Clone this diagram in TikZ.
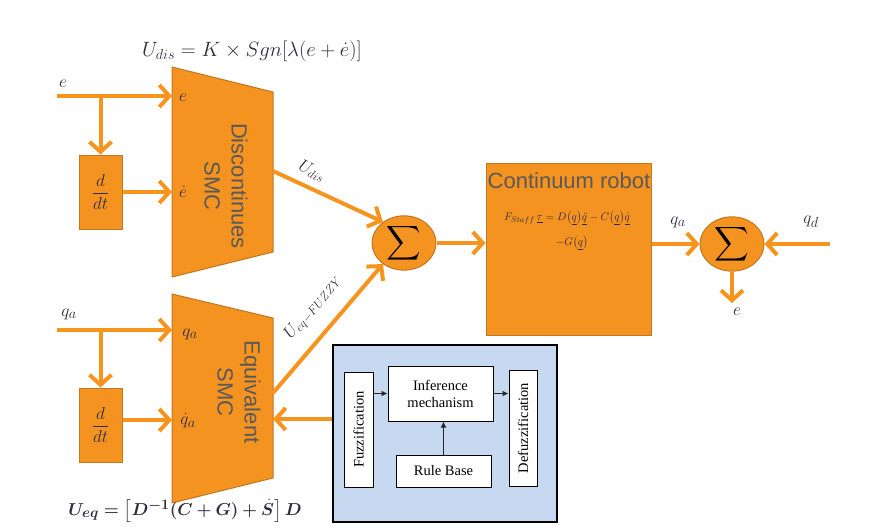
\documentclass[tikz,border=0pt]{standalone}
\usepackage{amsmath, amssymb}
\usepackage{bm}
\usepackage{fontspec}
\setmainfont{Liberation Serif}
\setsansfont{Liberation Sans}
\usepackage{tikz}
\usetikzlibrary{arrows.meta, positioning, shapes.geometric, calc}

\definecolor{sigorange}{RGB}{247,148,30}
\definecolor{bodyorange}{RGB}{245,147,33}
\definecolor{bodyedge}{RGB}{196,118,32}
\definecolor{fuzzyblue}{RGB}{198,217,241}
\definecolor{labelgray}{RGB}{89,89,89}
\definecolor{mathink}{RGB}{45,45,60}

\begin{document}
\begin{tikzpicture}[x=1pt, y=-1pt,
    sig/.style={draw=sigorange, line width=4pt, -{Straight Barb[length=10pt,width=22pt]}},
    body/.style={fill=bodyorange, draw=bodyedge, line width=1pt},
    ddt/.style={body, minimum width=43pt, minimum height=74pt, inner sep=0pt, text=mathink, font=\fontsize{17}{20}\selectfont},
    sumnode/.style={ellipse, body, minimum width=64pt, minimum height=54pt, inner sep=0pt, font=\fontsize{24}{26}\selectfont},
    smctext/.style={rotate=-90, align=center, text=labelgray, font=\sffamily\fontsize{22}{27}\selectfont},
    lbl/.style={text=mathink, font=\fontsize{19}{22}\selectfont, inner sep=1pt},
    fzbox/.style={draw=black, line width=1pt, fill=white, inner sep=0pt, align=center, font=\fontsize{14.5}{17}\selectfont},
    fz/.style={draw=black!85, line width=1.2pt, -{Latex[length=6pt,width=6pt]}}]
    \useasboundingbox (0,0) rectangle (873,530);

    % Discontinuous SMC block
    \draw[body] (172,67) -- (273,92) -- (273,252) -- (172,277) -- cycle;
    \node[smctext] (distext) at (226,186) {Discontinues\\SMC};
    \coordinate (dis-e) at (172,96);
    \coordinate (dis-de) at (172,192);
    \coordinate (dis-out) at (273,171);
    \node[lbl, font=\fontsize{20}{24}\selectfont] (dislaw) at (252,51) {$U_{dis} = K \times Sgn[\lambda(e + \dot{e})]$};

    % Equivalent SMC block
    \draw[body] (172,294) -- (273,318) -- (273,478) -- (172,503) -- cycle;
    \node[smctext] (eqtext) at (239,392) {Equivalent\\SMC};
    \coordinate (eq-q) at (172,330);
    \coordinate (eq-dq) at (172,420);
    \coordinate (eq-out) at (273,393);
    \coordinate (eq-fb) at (273,419);
    \node[lbl] (eqlaw) at (185,511) {$\bm{U_{eq} = \left[D^{-1}(C + G) + \dot{S}\right]D}$};

    % Inputs e and q_a with derivative blocks
    \coordinate (ein) at (57,96);
    \coordinate (ebr) at (100.5,96);
    \node[lbl] (elbl) at (63,84) {$e$};
    \node[ddt] (dt1) at (100.5,192) {$\dfrac{d}{dt}$};
    \node[lbl] (e1) at (183,98) {$e$};
    \node[lbl] (e2) at (183,192) {$\dot{e}$};
    \draw[sig] (ein) -- (dis-e);
    \draw[sig] (ebr) -- (dt1.north);
    \draw[sig] (dt1.east) -- (dis-de);

    \coordinate (qin) at (57,330);
    \coordinate (qbr) at (100.5,330);
    \node[lbl] (qlbl) at (69,314) {$q_a$};
    \node[ddt] (dt2) at (100.5,425) {$\dfrac{d}{dt}$};
    \node[lbl] (q1) at (190,334) {$q_a$};
    \node[lbl] (q2) at (188,421) {$\dot{q}_a$};
    \draw[sig] (qin) -- (eq-q);
    \draw[sig] (qbr) -- (dt2.north);
    \draw[sig] (dt2.east |- eq-dq) -- (eq-dq);

    % Summing junction
    \node[sumnode] (sum1) at (404,243) {$\displaystyle\sum$};
    \draw[sig] (dis-out) -- (sum1.135);
    \draw[sig] (eq-out) -- (sum1.225);
    \node[lbl, font=\fontsize{17}{20}\selectfont, rotate=-26] (udis) at (312,171) {$U_{dis}$};
    \node[lbl, font=\fontsize{17}{20}\selectfont, rotate=51] (ueq) at (313,307) {$U_{eq-FUZZY}$};

    % Plant
    \node[body, minimum width=165pt, minimum height=172pt] (robot) at (568.5,249) {};
    \node[text=labelgray, font=\sffamily\fontsize{22}{26}\selectfont, inner sep=0pt] (robotname) at (569,181) {Continuum robot};
    \node[text=mathink, font=\fontsize{11}{13}\selectfont, inner sep=0pt] (dyn1) at (567,218)
        {$F_{Staff}\,\underline{\tau} = D\big(\underline{q}\big)\underline{\ddot{q}} - C\big(\underline{q}\big)\underline{\dot{q}}$};
    \node[text=mathink, font=\fontsize{11}{13}\selectfont, inner sep=0pt] (dyn2) at (572,243) {$-G\big(\underline{q}\big)$};
    \draw[sig] (sum1.east) -- (sum1.east -| robot.west);

    % Error junction
    \node[sumnode] (sum2) at (732,244) {$\displaystyle\sum$};
    \coordinate (qdin) at (830,244);
    \coordinate (eout) at (732,303);
    \draw[sig] (robot.east |- sum2) -- (sum2.west);
    \draw[sig] (qdin) -- (sum2.east);
    \draw[sig] (sum2.south) -- (eout);
    \node[lbl] (qalbl) at (678,222) {$q_a$};
    \node[lbl] (qdlbl) at (811,222) {$q_d$};
    \node[lbl] (eolbl) at (737,312) {$e$};

    % Fuzzy logic system
    \node[draw=black, line width=2.5pt, fill=fuzzyblue, minimum width=224pt, minimum height=177pt] (fuzzy) at (445,433.5) {};
    \node[fzbox, minimum width=29pt, minimum height=115pt] (fuzz) at (358.5,429.5) {\rotatebox{90}{Fuzzification}};
    \node[fzbox, minimum width=105pt, minimum height=55pt] (infer) at (440.5,393.5) {Inference\\mechanism};
    \node[fzbox, minimum width=28pt, minimum height=116pt] (defuzz) at (523,428) {\rotatebox{90}{Defuzzification}};
    \node[fzbox, minimum width=95pt, minimum height=32pt] (rule) at (443.5,471) {Rule Base};
    \draw[fz] (fuzz.east |- infer.west) -- (infer.west);
    \draw[fz] (infer.east) -- (defuzz.west |- infer.east);
    \draw[fz] (rule.north) -- (infer.south -| rule.north);
    \draw[sig] (fuzzy.west |- eq-fb) -- (eq-fb);
\end{tikzpicture}
\end{document}
